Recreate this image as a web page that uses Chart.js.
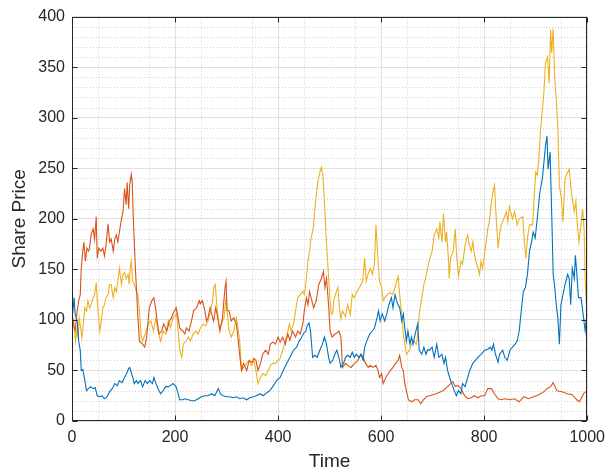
<!DOCTYPE html>
<html>
<head>
<meta charset="utf-8">
<script src="https://cdn.jsdelivr.net/npm/chart.js@4/dist/chart.umd.min.js"></script>
<style>
  html, body { margin: 0; padding: 0; background: #fff; }
  #wrap { width: 612px; height: 474px; }
</style>
</head>
<body>
<div id="wrap"><canvas id="chart" width="612" height="474"></canvas></div>
<script>
// Values, as [time, share price]
const blueSeries = [[0,102],[2,110],[4,122],[6,106],[10,99],[13,79],[16,70],[18,50],[21,51],[25,40],[28,30],[32,32],[36,34],[41,32],[45,33],[49,25],[54,24],[58,25],[63,22],[68,24],[73,29],[78,32],[83,37],[88,35],[92,40],[97,38],[102,43],[106,47],[110,52],[112,53],[115,48],[118,43],[121,37],[125,40],[128,37],[133,40],[137,34],[142,40],[146,37],[151,40],[156,37],[159,43],[163,37],[167,32],[172,27],[177,30],[182,34],[187,34],[191,35],[196,37],[202,34],[206,27],[209,21],[215,21],[219,22],[226,21],[232,20],[238,20],[245,22],[251,24],[258,25],[264,25],[271,27],[277,25],[284,32],[288,27],[293,25],[300,24],[306,24],[313,23],[319,24],[326,22],[332,23],[339,21],[345,23],[352,24],[358,25],[365,27],[371,25],[378,28],[384,30],[391,35],[397,40],[404,43],[410,50],[417,57],[423,63],[430,70],[436,73],[441,79],[446,83],[450,87],[454,89],[456,94],[460,97],[463,89],[467,63],[471,65],[476,63],[481,70],[486,76],[490,83],[494,76],[498,63],[501,57],[506,60],[510,66],[514,70],[518,63],[522,53],[527,57],[531,63],[535,65],[540,63],[544,68],[548,63],[552,66],[557,63],[561,66],[565,60],[568,73],[572,79],[578,86],[583,89],[587,92],[592,102],[595,109],[598,99],[602,106],[607,99],[611,106],[615,115],[620,122],[623,112],[627,125],[630,119],[633,115],[636,112],[640,99],[643,106],[646,92],[649,79],[652,89],[656,76],[659,83],[662,76],[666,86],[669,92],[671,96],[674,70],[679,66],[683,73],[687,66],[691,71],[694,70],[699,73],[703,63],[708,76],[712,63],[718,66],[722,57],[725,63],[729,50],[733,43],[737,37],[742,30],[746,25],[750,30],[755,27],[758,37],[763,34],[768,43],[772,50],[778,57],[783,60],[788,63],[794,66],[801,70],[807,71],[812,73],[815,70],[818,76],[822,66],[827,58],[830,66],[836,70],[840,63],[845,60],[850,70],[855,73],[860,76],[864,79],[868,89],[872,109],[876,128],[880,132],[884,145],[888,168],[892,177],[895,187],[899,181],[903,200],[908,226],[913,240],[916,256],[919,272],[922,282],[924,249],[928,266],[931,207],[934,145],[937,132],[940,115],[943,102],[946,76],[949,115],[953,125],[957,135],[962,145],[965,141],[968,115],[971,151],[975,141],[977,164],[980,145],[983,122],[988,122],[993,102],[996,89],[998,99],[1000,107]];

const orangeSeries = [[0,106],[4,92],[6,89],[10,109],[13,119],[16,125],[18,151],[21,168],[23,177],[26,158],[29,171],[32,168],[34,171],[37,184],[41,190],[44,180],[47,202],[49,161],[52,171],[56,168],[60,171],[63,163],[66,174],[70,195],[73,177],[76,180],[80,168],[83,180],[86,184],[89,177],[92,187],[96,200],[99,207],[102,230],[105,214],[107,236],[110,210],[112,233],[115,244],[117,236],[119,200],[123,151],[128,102],[131,79],[137,76],[141,73],[145,83],[150,112],[155,119],[159,122],[163,109],[166,96],[169,86],[174,89],[178,96],[184,89],[189,99],[193,102],[196,106],[202,112],[206,102],[209,92],[215,89],[219,86],[222,92],[227,89],[232,99],[236,109],[242,112],[247,119],[249,116],[253,119],[258,109],[261,99],[264,102],[268,112],[271,106],[275,99],[279,112],[284,99],[287,89],[292,102],[297,132],[299,138],[301,109],[305,109],[309,99],[314,102],[319,96],[322,83],[326,63],[329,50],[333,57],[339,50],[344,60],[349,58],[353,62],[357,60],[361,50],[366,57],[370,66],[376,70],[381,66],[385,76],[390,78],[395,76],[400,83],[404,78],[409,83],[414,76],[419,86],[423,80],[428,89],[434,83],[438,89],[443,86],[448,96],[451,109],[455,122],[458,115],[461,128],[464,122],[469,112],[474,119],[479,135],[484,141],[488,148],[491,132],[494,141],[498,115],[501,89],[505,83],[510,86],[514,87],[518,89],[522,83],[525,53],[531,57],[535,55],[542,53],[548,57],[555,60],[561,66],[565,63],[570,57],[575,53],[579,55],[584,53],[590,55],[594,50],[597,43],[601,47],[604,37],[609,43],[614,47],[618,50],[623,53],[628,57],[633,60],[636,65],[640,53],[643,50],[646,37],[649,30],[653,21],[659,19],[665,21],[672,21],[677,17],[682,21],[688,24],[694,25],[707,27],[720,30],[729,34],[739,39],[744,34],[749,35],[755,32],[762,25],[768,22],[775,23],[781,25],[788,23],[794,25],[801,25],[807,32],[814,32],[820,27],[827,22],[833,21],[840,22],[850,21],[859,22],[868,19],[877,24],[886,22],[896,24],[906,26],[916,29],[922,32],[929,34],[934,38],[941,30],[951,29],[961,27],[971,26],[980,21],[985,19],[993,27],[1000,30]];

const yellowSeries = [[0,106],[3,99],[5,89],[7,79],[10,92],[12,82],[14,102],[17,92],[19,82],[22,96],[25,112],[28,109],[31,119],[34,112],[37,115],[41,122],[44,125],[47,137],[49,119],[52,102],[54,89],[57,99],[60,112],[63,115],[66,122],[70,125],[73,135],[76,135],[80,122],[83,132],[86,128],[89,138],[92,151],[96,135],[99,145],[102,147],[105,141],[109,145],[111,135],[113,151],[115,158],[118,138],[121,135],[125,128],[128,125],[131,109],[134,85],[137,79],[142,86],[148,96],[153,99],[158,89],[163,102],[167,89],[172,79],[177,89],[182,86],[187,99],[191,92],[196,102],[203,106],[206,89],[209,70],[213,63],[216,76],[221,79],[226,83],[230,79],[235,86],[240,89],[245,86],[249,92],[255,96],[260,94],[264,99],[269,109],[273,119],[275,132],[278,135],[282,109],[286,92],[290,96],[295,102],[299,122],[301,109],[305,89],[309,83],[314,89],[319,102],[323,89],[326,76],[329,50],[333,53],[339,57],[344,60],[349,55],[353,60],[357,50],[361,37],[366,43],[370,47],[376,45],[381,50],[385,55],[390,57],[395,57],[400,60],[404,62],[409,70],[414,79],[419,89],[422,96],[425,89],[430,96],[434,109],[438,122],[443,125],[448,128],[451,125],[455,141],[458,158],[461,168],[464,181],[468,190],[471,207],[474,223],[477,236],[481,246],[484,251],[487,243],[490,217],[493,184],[497,151],[500,125],[503,106],[506,106],[508,119],[513,128],[516,132],[519,112],[522,101],[525,109],[531,103],[535,115],[540,105],[544,125],[548,122],[553,128],[558,132],[564,138],[568,161],[571,138],[575,146],[579,151],[583,145],[587,155],[590,194],[594,158],[597,138],[601,132],[604,119],[607,122],[612,125],[617,127],[622,125],[627,132],[630,138],[633,143],[636,125],[640,106],[643,86],[646,76],[649,66],[655,70],[659,76],[664,79],[668,76],[670,80],[674,106],[679,122],[683,135],[688,145],[693,158],[699,168],[703,184],[708,190],[712,181],[714,197],[718,177],[721,205],[725,177],[727,187],[731,158],[732,141],[735,161],[740,168],[744,190],[746,168],[750,143],[755,158],[758,155],[763,174],[768,184],[771,174],[775,168],[778,177],[781,165],[784,158],[788,151],[791,145],[794,158],[797,151],[803,174],[807,190],[810,197],[814,217],[817,226],[820,233],[823,204],[827,171],[830,184],[833,194],[838,200],[843,207],[846,197],[849,212],[855,200],[859,207],[864,194],[868,200],[875,202],[878,177],[881,161],[884,181],[888,194],[894,194],[897,220],[900,246],[903,243],[906,259],[909,285],[913,308],[916,325],[919,354],[923,360],[926,334],[929,387],[931,364],[934,388],[937,338],[940,318],[943,289],[946,233],[950,220],[953,197],[957,240],[962,246],[965,249],[968,233],[971,220],[975,207],[978,217],[981,194],[984,177],[988,194],[991,210],[994,190],[996,141],[998,119],[1000,109]];

const seriesColors = ['#0072BD', '#D95319', '#EDB120'];
const xTicks = [0, 200, 400, 600, 800, 1000];
const yTicks = [0, 50, 100, 150, 200, 250, 300, 350, 400];

const toPoints = s => s.map(p => ({ x: p[0], y: p[1] }));

const axisColor = '#262626';
const tickFont = { family: 'Liberation Sans, Arial, sans-serif', size: 16 };
const titleFont = { family: 'Liberation Sans, Arial, sans-serif', size: 19 };

// minor dotted grid, box and inward ticks, MATLAB style
const matlabAxes = {
  id: 'matlabAxes',
  beforeDatasetsDraw(chart) {
    const { ctx, chartArea: a, scales: { x, y } } = chart;
    ctx.save();
    ctx.strokeStyle = '#cfcfcf';
    ctx.lineWidth = 1;
    ctx.setLineDash([1, 2]);
    for (let v = 10; v < 400; v += 10) {
      if (v % 50 === 0) continue;
      const py = Math.round(y.getPixelForValue(v)) + 0.5;
      ctx.beginPath(); ctx.moveTo(a.left, py); ctx.lineTo(a.right, py); ctx.stroke();
    }
    for (let v = 50; v < 1000; v += 100) {
      const px = Math.round(x.getPixelForValue(v)) + 0.5;
      ctx.beginPath(); ctx.moveTo(px, a.top); ctx.lineTo(px, a.bottom); ctx.stroke();
    }
    ctx.restore();
  },
  afterDatasetsDraw(chart) {
    const { ctx, chartArea: a, scales: { x, y } } = chart;
    ctx.save();
    ctx.strokeStyle = axisColor;
    ctx.lineWidth = 1;
    const L = Math.round(a.left) + 0.5, R = Math.round(a.right) - 0.5;
    const T = Math.round(a.top) + 0.5, B = Math.round(a.bottom) - 0.5;
    ctx.strokeRect(L, T, R - L, B - T);
    const len = 5;
    ctx.beginPath();
    xTicks.forEach(v => {
      const px = Math.round(x.getPixelForValue(v)) + 0.5;
      ctx.moveTo(px, B); ctx.lineTo(px, B - len);
      ctx.moveTo(px, T); ctx.lineTo(px, T + len);
    });
    yTicks.forEach(v => {
      const py = Math.round(y.getPixelForValue(v)) + 0.5;
      ctx.moveTo(L, py); ctx.lineTo(L + len, py);
      ctx.moveTo(R, py); ctx.lineTo(R - len, py);
    });
    ctx.stroke();
    ctx.restore();
  }
};

const ctx = document.getElementById('chart').getContext('2d');
const chart = new Chart(ctx, {
  type: 'line',
  data: {
    datasets: [
      { data: toPoints(blueSeries), borderColor: seriesColors[0] },
      { data: toPoints(orangeSeries), borderColor: seriesColors[1] },
      { data: toPoints(yellowSeries), borderColor: seriesColors[2] }
    ].map(d => Object.assign(d, { borderWidth: 1.1, pointRadius: 0, tension: 0, fill: false }))
  },
  options: {
    responsive: false,
    animation: false,
    layout: { padding: { left: 0, right: 24, top: 13, bottom: 0 } },
    plugins: { legend: { display: false }, tooltip: { enabled: false } },
    scales: {
      x: {
        type: 'linear', min: 0, max: 1000,
        afterBuildTicks: s => { s.ticks = xTicks.map(v => ({ value: v })); },
        afterFit: s => { s.height = 53; },
        ticks: { color: axisColor, font: tickFont, padding: 7, maxRotation: 0, autoSkip: false, callback: v => String(v) },
        grid: { color: '#e0e0e0', drawTicks: false },
        border: { display: false },
        title: { display: true, text: 'Time', color: axisColor, font: titleFont, padding: { top: 1, bottom: 1 } }
      },
      y: {
        type: 'linear', min: 0, max: 400,
        afterBuildTicks: s => { s.ticks = yTicks.map(v => ({ value: v })); },
        afterFit: s => { s.width = 72; },
        ticks: { color: axisColor, font: tickFont, padding: 7, callback: v => String(v) },
        grid: { color: '#e0e0e0', drawTicks: false },
        border: { display: false },
        title: { display: true, text: 'Share Price', color: axisColor, font: titleFont, padding: { top: 8, bottom: 8 } }
      }
    }
  },
  plugins: [matlabAxes]
});
</script>
</body>
</html>
